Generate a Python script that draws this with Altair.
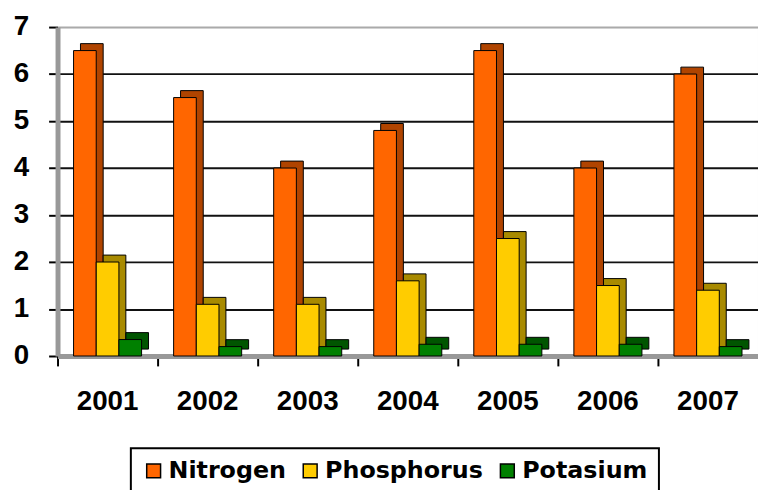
import altair as alt
import pandas as pd

years = ["2001", "2002", "2003", "2004", "2005", "2006", "2007"]
nitrogen = [6.5, 5.5, 4.0, 4.8, 6.5, 4.0, 6.0]
phosphorus = [2.0, 1.1, 1.1, 1.6, 2.5, 1.5, 1.4]
potasium = [0.35, 0.2, 0.2, 0.25, 0.25, 0.25, 0.2]
series = ["Nitrogen", "Phosphorus", "Potasium"]
front_colors = ["#FF6600", "#FFCC00", "#008000"]
side_colors = ["#B04400", "#A88A00", "#005500"]

rows = []
for name, vals, side in zip(series, [nitrogen, phosphorus, potasium], side_colors):
    for y, v in zip(years, vals):
        rows.append({"year": y, "series": name, "value": v, "side": side})
df = pd.DataFrame(rows)

font = "Liberation Sans"
W, H = 707, 332
P_IN = 0.32
step = W / (len(years) - P_IN + 2 * (P_IN / 2))
bandwidth = step * (1 - P_IN)
depth = 7

x_enc = alt.X("year:N", sort=years,
              scale=alt.Scale(paddingInner=P_IN, paddingOuter=P_IN / 2),
              axis=alt.Axis(title=None, labelFont=font, labelFontSize=28,
                            labelFontWeight="bold", labelColor="black",
                            labelAngle=0, labelPadding=22,
                            bandPosition=-(P_IN / 2) / (1 - P_IN),
                            tickColor="black", tickSize=10, tickWidth=2,
                            domainColor="#999999", domainWidth=5))
y_enc = alt.Y("value:Q", scale=alt.Scale(domain=[0, 7], nice=False),
              axis=alt.Axis(title=None, values=[0, 1, 2, 3, 4, 5, 6, 7],
                            labelFont=font, labelFontSize=28,
                            labelFontWeight="bold", labelColor="black",
                            labelPadding=20, tickSize=9, tickWidth=2,
                            tickColor="black",
                            domainColor="#999999", domainWidth=5,
                            grid=True, gridWidth=2,
                            gridColor=alt.condition("datum.value == 7",
                                                    alt.value("#aaaaaa"),
                                                    alt.value("#111111"))))

back = alt.Chart(df).mark_bar(yOffset=-depth, stroke="black",
                              strokeWidth=1).encode(
    x=x_enc, y=y_enc,
    xOffset=alt.XOffset("series:N", sort=series,
                        scale=alt.Scale(range=[depth, depth + bandwidth])),
    color=alt.Color("side:N", scale=None),
)

front = alt.Chart(df).mark_bar(stroke="black", strokeWidth=1).encode(
    x=x_enc, y=y_enc,
    xOffset=alt.XOffset("series:N", sort=series,
                        scale=alt.Scale(range=[0, bandwidth])),
    color=alt.Color("series:N", sort=series,
                    scale=alt.Scale(domain=series, range=front_colors),
                    legend=alt.Legend(title=None, orient="none",
                                      legendX=74, legendY=425,
                                      direction="horizontal", columns=3,
                                      symbolType="square", symbolSize=196,
                                      symbolStrokeColor="black",
                                      symbolStrokeWidth=1.5,
                                      labelFont="DejaVu Sans", labelFontSize=24,
                                      labelFontWeight="bold",
                                      labelColor="black", labelLimit=300,
                                      columnPadding=12, labelOffset=3,
                                      padding=11, strokeColor="black",
                                      fillColor="white")),
)

chart = alt.layer(back, front).resolve_scale(xOffset="independent").properties(
    width=W, height=H,
    autosize=alt.AutoSizeParams(type="none"),
    padding={"left": 50, "top": 17, "right": 0, "bottom": 133},
).configure_view(stroke="#aaaaaa", strokeWidth=1).configure_legend(strokeWidth=2)

chart.save("out.html", embed_options={"renderer": "svg", "actions": False})
